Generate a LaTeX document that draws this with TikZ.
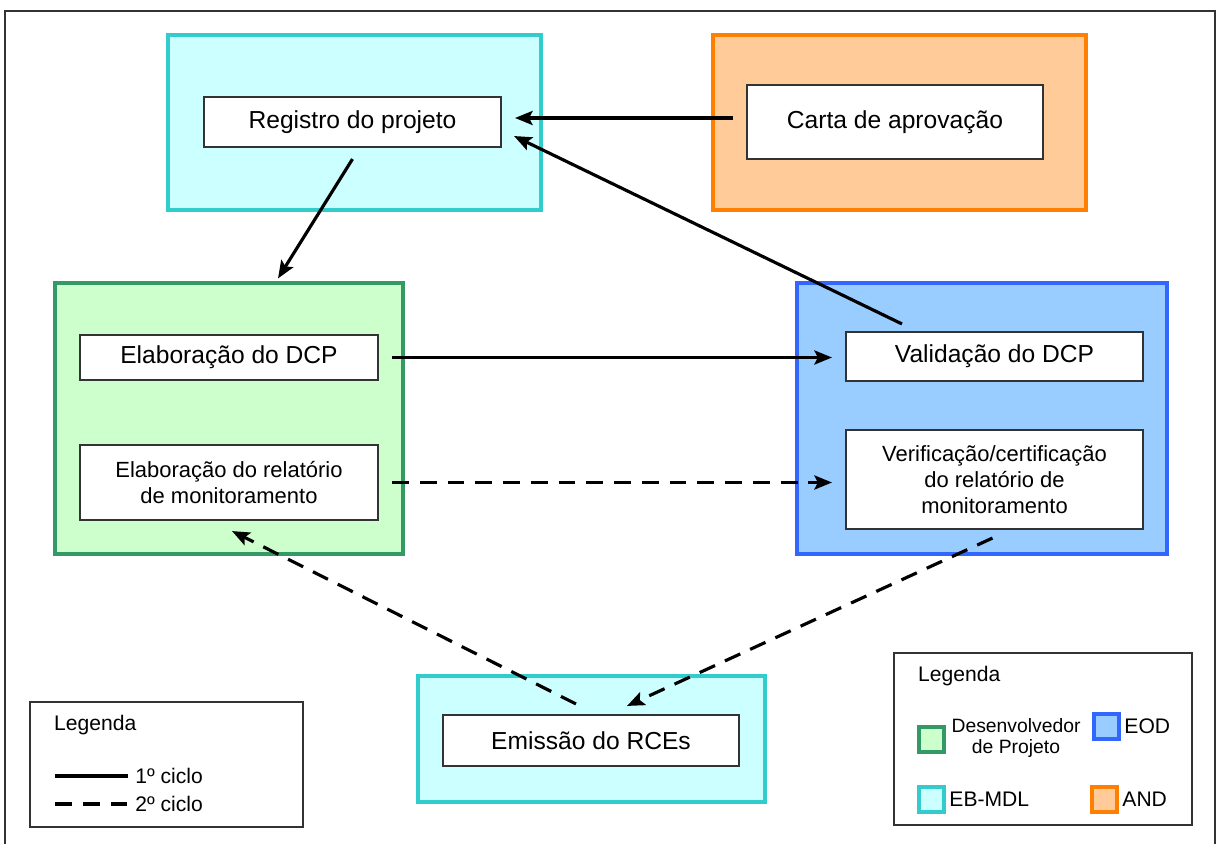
\documentclass[tikz,border=0pt]{standalone}
\usepackage{fontspec}
\setsansfont{Liberation Sans}
\usetikzlibrary{arrows.meta,positioning,calc}

\definecolor{cyanfill}{HTML}{CCFFFF}
\definecolor{cyanline}{HTML}{33CCCC}
\definecolor{orgfill}{HTML}{FFCC99}
\definecolor{orgline}{HTML}{FF8000}
\definecolor{grnfill}{HTML}{CCFFCC}
\definecolor{grnline}{HTML}{339966}
\definecolor{blufill}{HTML}{99CCFF}
\definecolor{bluline}{HTML}{3366FF}
\definecolor{boxline}{HTML}{333333}

\begin{document}
\begin{tikzpicture}[x=0.02cm,y=-0.02cm,
            every node/.style={align=center, font=\sffamily\fontsize{12}{14}\selectfont},
            actor/.style={draw, line width=1.8pt, inner sep=0pt},
            task/.style={draw=boxline, line width=1.2pt, fill=white, minimum width=5.94cm, font=\sffamily\fontsize{14}{16}\selectfont},
            small/.style={font=\sffamily\fontsize{12.5}{14.7}\selectfont},
            swatch/.style={draw, line width=1.8pt, minimum size=0.5cm, inner sep=0pt},
            to/.style={->,>={Stealth[length=10pt,width=8pt,inset=2pt]},shorten >=0.26cm,shorten <=0.26cm,line width=1.8pt},
            cycletwo/.style={to, dash pattern=on 9.6pt off 6.2pt}
  ]
  \useasboundingbox (0,0) rectangle (1217,844);
  \draw[boxline, line width=1.2pt] (5,844) -- (5,11) -- (1215,11) -- (1215,844);

  % groups
  \node[actor, draw=cyanline, fill=cyanfill, minimum width=7.46cm, minimum height=3.5cm] (ebmdl) at (354.5,122.5) {};
  \node[actor, draw=orgline, fill=orgfill, minimum width=7.46cm, minimum height=3.5cm] (and) at (899.5,122.5) {};
  \node[actor, draw=grnline, fill=grnfill, minimum width=6.96cm, minimum height=5.42cm] (dev) at (229,418.5) {};
  \node[actor, draw=bluline, fill=blufill, minimum width=7.4cm, minimum height=5.42cm] (eod) at (982,418.5) {};
  \node[actor, draw=cyanline, fill=cyanfill, minimum width=6.94cm, minimum height=2.52cm] (ebmdlb) at (591.5,739) {};

  % tasks
  \node[task, minimum height=1cm] (reg) at (352.5,122) {Registro do projeto};
  \node[task, minimum width=5.92cm, minimum height=1.48cm] (carta) at (895,122) {Carta de aprovação};
  \node[task, minimum width=5.96cm, minimum height=0.9cm] (elabdcp) at (229,357.5) {Elaboração do DCP};
  \node[task, small, minimum width=5.96cm, minimum height=1.5cm] (elabrel) at (229,482.5) {Elaboração do relatório\\de monitoramento};
  \node[task, minimum height=0.98cm] (valid) at (994.5,356.5) {Validação do DCP};
  \node[task, small, minimum height=1.98cm] (verif) at (994.5,479.5) {Verificação/certificação\\do relatório de\\monitoramento};
  \node[task, minimum width=5.92cm, minimum height=1.02cm] (emis) at (591,740.5) {Emissão do RCEs};

  % 1o ciclo
  \draw[to] ([yshift=0.08cm]carta.west) -- ([yshift=0.08cm]reg.east);
  \draw[to, shorten <=0pt, shorten >=0pt] ($(valid.north west)+(57,-7)$) -- ($(reg.south east)+(12,-12)$);
  \draw[to, shorten <=0pt, shorten >=0pt] ($(reg.south)+(0,11)$) -- ($(dev.north)+(49,-3)$);
  \draw[to] (elabdcp.east) -- (elabdcp.east -| valid.west);

  % 2o ciclo
  \draw[cycletwo] (elabrel.east) -- (elabrel.east -| valid.west);
  \draw[cycletwo, shorten <=0pt, shorten >=0pt] ($(verif.south)+(-2,8)$) -- ($(emis.north)+(36,-8)$);
  \draw[cycletwo, shorten <=0pt, shorten >=0pt] ($(emis.north)+(-15,-10)$) -- ($(elabrel.south)+(3,10)$);

  % legenda ciclos
  \node[draw=boxline, line width=1.2pt, minimum width=5.46cm, minimum height=2.5cm] (legc) at (166.5,764.5) {};
  \node[anchor=west] (legctit) at (48,725) {Legenda};
  \coordinate (c1a) at (55,776);
  \coordinate (c1b) at (128,776);
  \coordinate (c2a) at (55,804);
  \coordinate (c2b) at (128,804);
  \draw[line width=1.8pt] (c1a) -- (c1b);
  \draw[line width=1.8pt, dash pattern=on 9.6pt off 6.2pt] (c2a) -- (c2b);
  \node[anchor=west, inner sep=0pt, xshift=0.14cm] (c1t) at (c1b) {1º ciclo};
  \node[anchor=west, inner sep=0pt, xshift=0.14cm] (c2t) at (c2b) {2º ciclo};

  % legenda atores
  \node[draw=boxline, line width=1.2pt, minimum width=5.96cm, minimum height=3.44cm] (lega) at (1043,739) {};
  \node[anchor=west] (legatit) at (912,676) {Legenda};
  \node[swatch, draw=grnline, fill=grnfill] (swdev) at (931.5,739.5) {};
  \node[swatch, draw=bluline, fill=blufill] (sweod) at (1106.5,726.5) {};
  \node[swatch, draw=cyanline, fill=cyanfill] (sweb) at (931.5,799.5) {};
  \node[swatch, draw=orgline, fill=orgfill] (swand) at (1104.5,799.5) {};
  \node[font=\sffamily\fontsize{11}{12.5}\selectfont] (tdev) at (1016,738) {Desenvolvedor\\de Projeto};
  \node[anchor=west, inner sep=2pt] (teod) at (sweod.east) {EOD};
  \node[anchor=west, inner sep=2pt] (teb) at (sweb.east) {EB-MDL};
  \node[anchor=west, inner sep=2pt] (tand) at (swand.east) {AND};

\end{tikzpicture}
\end{document}
